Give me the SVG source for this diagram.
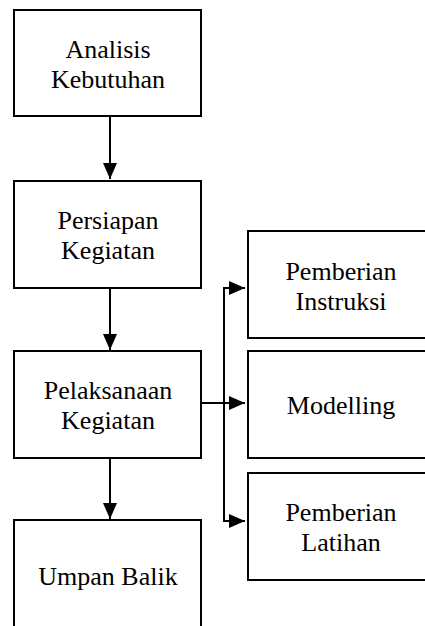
<svg xmlns="http://www.w3.org/2000/svg" width="425" height="626" viewBox="0 0 425 626">
<defs>
<marker id="ah" markerUnits="userSpaceOnUse" markerWidth="16" markerHeight="14" refX="16" refY="7" orient="auto">
<path d="M0,0 L16,7 L0,14 z" fill="#000"/>
</marker>
<style>
rect.box{fill:#fff;stroke:#000;stroke-width:2}
.c{fill:none;stroke:#000;stroke-width:2}
</style>
</defs>
<rect width="425" height="626" fill="#fff"/>
<g id="connectors">
<line class="c" x1="110" y1="117" x2="110" y2="179" marker-end="url(#ah)"/>
<line class="c" x1="110" y1="289" x2="110" y2="350" marker-end="url(#ah)"/>
<line class="c" x1="110" y1="459" x2="110" y2="519" marker-end="url(#ah)"/>
<line class="c" x1="201" y1="403" x2="245" y2="403" marker-end="url(#ah)"/>
<line class="c" x1="224" y1="287" x2="224" y2="522"/>
<polyline class="c" points="224,288 245,288" marker-end="url(#ah)"/>
<polyline class="c" points="224,521 245,521" marker-end="url(#ah)"/>
</g>
<g font-family="'Liberation Serif', 'DejaVu Serif', serif" font-size="26" fill="#000" text-anchor="middle">
<g id="analisis">
<rect class="box" x="14" y="10" width="187" height="106"/>
<text x="108" y="58">Analisis</text>
<text x="108" y="88">Kebutuhan</text>
</g>
<g id="persiapan">
<rect class="box" x="14" y="181" width="187" height="107"/>
<text x="108" y="229">Persiapan</text>
<text x="108" y="259">Kegiatan</text>
</g>
<g id="pelaksanaan">
<rect class="box" x="14" y="351" width="187" height="107"/>
<text x="108" y="399">Pelaksanaan</text>
<text x="108" y="429">Kegiatan</text>
</g>
<g id="umpan">
<rect class="box" x="14" y="520" width="187" height="107"/>
<text x="108" y="585">Umpan Balik</text>
</g>
<g id="instruksi">
<rect class="box" x="248" y="231" width="187" height="107"/>
<text x="341" y="280">Pemberian</text>
<text x="341" y="310">Instruksi</text>
</g>
<g id="modelling">
<rect class="box" x="248" y="351" width="187" height="107"/>
<text x="341" y="414">Modelling</text>
</g>
<g id="latihan">
<rect class="box" x="248" y="473" width="187" height="107"/>
<text x="341" y="521">Pemberian</text>
<text x="341" y="551">Latihan</text>
</g>
</g>
</svg>
